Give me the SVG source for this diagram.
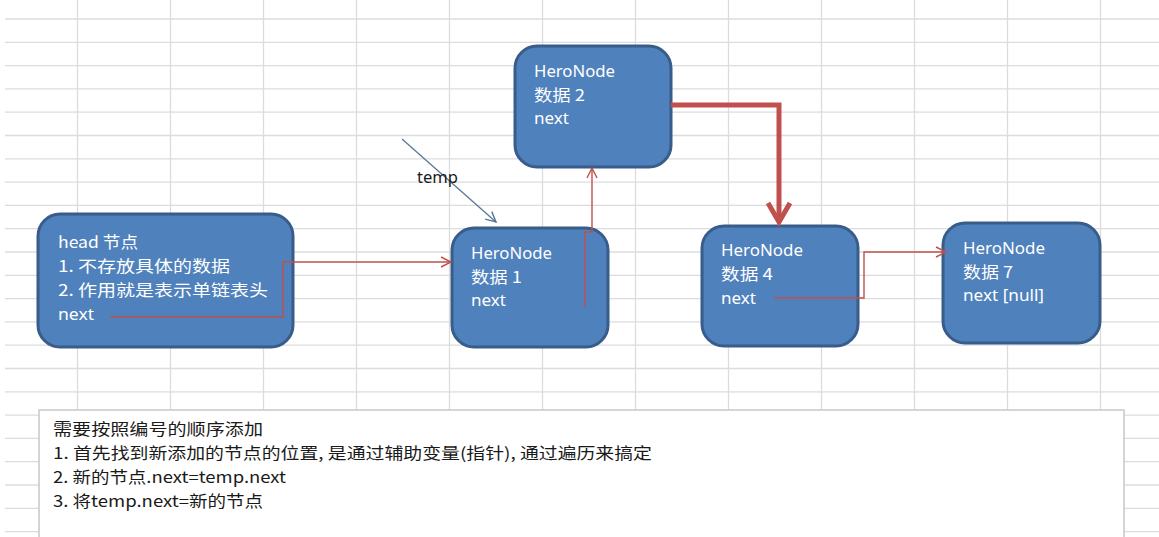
<svg xmlns="http://www.w3.org/2000/svg" width="1159" height="537" viewBox="0 0 1159 537">
<style>
.grid line{stroke:#dcdcdc;stroke-width:1.3}
.node rect{fill:#4f81bd;stroke:#385d8a;stroke-width:3}
.node text{fill:#ffffff;font-family:"Noto Sans","Noto Sans CJK SC",sans-serif;font-size:17px}
.node text.cjk{font-family:"Noto Sans CJK SC",sans-serif;font-size:16px}
.thin{fill:none;stroke:#c0504d;stroke-width:1.4}
.thick{fill:none;stroke:#c0504d;stroke-width:5;stroke-linejoin:miter}
.note{fill:#1a1a1a;font-family:"Noto Sans CJK SC",sans-serif;font-size:16px}
</style>
<defs>
<marker id="open" viewBox="0 0 12 12" refX="11" refY="6" markerWidth="12" markerHeight="12" markerUnits="userSpaceOnUse" orient="auto">
<path d="M1,1 L11,6 L1,11" fill="none" stroke="#c0504d" stroke-width="1.4"/>
</marker>
<marker id="openblue" viewBox="0 0 12 12" refX="11" refY="6" markerWidth="12" markerHeight="12" markerUnits="userSpaceOnUse" orient="auto">
<path d="M1,1 L11,6 L1,11" fill="none" stroke="#5a7896" stroke-width="1.4"/>
</marker>
</defs>
<rect width="1159" height="537" fill="#ffffff"/>
<g class="grid">
<line x1="5" y1="19" x2="1159" y2="19"/>
<line x1="5" y1="42.3" x2="1159" y2="42.3"/>
<line x1="5" y1="65.6" x2="1159" y2="65.6"/>
<line x1="5" y1="88.9" x2="1159" y2="88.9"/>
<line x1="5" y1="112.2" x2="1159" y2="112.2"/>
<line x1="5" y1="135.5" x2="1159" y2="135.5"/>
<line x1="5" y1="158.8" x2="1159" y2="158.8"/>
<line x1="5" y1="182.1" x2="1159" y2="182.1"/>
<line x1="5" y1="205.4" x2="1159" y2="205.4"/>
<line x1="5" y1="228.7" x2="1159" y2="228.7"/>
<line x1="5" y1="252" x2="1159" y2="252"/>
<line x1="5" y1="275.3" x2="1159" y2="275.3"/>
<line x1="5" y1="298.6" x2="1159" y2="298.6"/>
<line x1="5" y1="321.9" x2="1159" y2="321.9"/>
<line x1="5" y1="345.2" x2="1159" y2="345.2"/>
<line x1="5" y1="368.5" x2="1159" y2="368.5"/>
<line x1="5" y1="391.8" x2="1159" y2="391.8"/>
<line x1="5" y1="415.1" x2="1159" y2="415.1"/>
<line x1="5" y1="438.4" x2="1159" y2="438.4"/>
<line x1="5" y1="461.7" x2="1159" y2="461.7"/>
<line x1="5" y1="485" x2="1159" y2="485"/>
<line x1="5" y1="508.3" x2="1159" y2="508.3"/>
<line x1="5" y1="531.6" x2="1159" y2="531.6"/>
<line x1="77.5" y1="0" x2="77.5" y2="537"/>
<line x1="170.5" y1="0" x2="170.5" y2="537"/>
<line x1="263.5" y1="0" x2="263.5" y2="537"/>
<line x1="356.5" y1="0" x2="356.5" y2="537"/>
<line x1="449.5" y1="0" x2="449.5" y2="537"/>
<line x1="542.5" y1="0" x2="542.5" y2="537"/>
<line x1="635.5" y1="0" x2="635.5" y2="537"/>
<line x1="728.5" y1="0" x2="728.5" y2="537"/>
<line x1="821.5" y1="0" x2="821.5" y2="537"/>
<line x1="914.5" y1="0" x2="914.5" y2="537"/>
<line x1="1007.5" y1="0" x2="1007.5" y2="537"/>
<line x1="1100.5" y1="0" x2="1100.5" y2="537"/>
</g>
<g id="note">
<rect x="39" y="410" width="1085" height="140" fill="#ffffff" stroke="#c8c8c8" stroke-width="1.5"/>
<text class="note" x="53" y="435" textLength="210" lengthAdjust="spacingAndGlyphs">需要按照编号的顺序添加</text>
<text class="note" x="53" y="459" textLength="599" lengthAdjust="spacingAndGlyphs">1. 首先找到新添加的节点的位置, 是通过辅助变量(指针), 通过遍历来搞定</text>
<text class="note" x="53" y="483" textLength="233" lengthAdjust="spacingAndGlyphs">2. 新的节点.next=temp.next</text>
<text class="note" x="53" y="507" textLength="210" lengthAdjust="spacingAndGlyphs">3. 将temp.next=新的节点</text>
</g>
<g id="head" class="node">
<rect x="38" y="214" width="255" height="133" rx="22"/>
<text class="cjk" x="58" y="248" textLength="80" lengthAdjust="spacingAndGlyphs">head 节点</text>
<text class="cjk" x="58" y="272" textLength="172" lengthAdjust="spacingAndGlyphs">1. 不存放具体的数据</text>
<text class="cjk" x="58" y="296" textLength="210" lengthAdjust="spacingAndGlyphs">2. 作用就是表示单链表头</text>
<text x="58" y="320" textLength="36" lengthAdjust="spacingAndGlyphs">next</text>
</g>
<g id="node1" class="node">
<rect x="452" y="228" width="156" height="119" rx="22"/>
<text x="471" y="259" textLength="81" lengthAdjust="spacingAndGlyphs">HeroNode</text>
<text class="cjk" x="471" y="283" textLength="51" lengthAdjust="spacingAndGlyphs">数据 1</text>
<text x="471" y="306" textLength="35" lengthAdjust="spacingAndGlyphs">next</text>
</g>
<g id="node2" class="node">
<rect x="515" y="46" width="156" height="121" rx="22"/>
<text x="534" y="77" textLength="81" lengthAdjust="spacingAndGlyphs">HeroNode</text>
<text class="cjk" x="534" y="101" textLength="51" lengthAdjust="spacingAndGlyphs">数据 2</text>
<text x="534" y="124" textLength="35" lengthAdjust="spacingAndGlyphs">next</text>
</g>
<g id="node4" class="node">
<rect x="702" y="226" width="156" height="120" rx="22"/>
<text x="721" y="256" textLength="82" lengthAdjust="spacingAndGlyphs">HeroNode</text>
<text class="cjk" x="721" y="280" textLength="52" lengthAdjust="spacingAndGlyphs">数据 4</text>
<text x="721" y="304" textLength="35" lengthAdjust="spacingAndGlyphs">next</text>
</g>
<g id="node7" class="node">
<rect x="943" y="223" width="157" height="120" rx="22"/>
<text x="963" y="254" textLength="82" lengthAdjust="spacingAndGlyphs">HeroNode</text>
<text class="cjk" x="963" y="278" textLength="50" lengthAdjust="spacingAndGlyphs">数据 7</text>
<text x="963" y="301" textLength="81" lengthAdjust="spacingAndGlyphs">next [null]</text>
</g>
<g id="connectors">
<path class="thin" d="M110,317 H283 V262 H451" marker-end="url(#open)"/>
<path class="thin" d="M585,307 V232 H592 V168" marker-end="url(#open)"/>
<path class="thin" d="M774,298 H864 V252 H946" marker-end="url(#open)"/>
<path class="thick" d="M671,105 H779 V222"/>
<path class="thick" d="M768,203 L779,222 L790,203"/>
<line x1="402" y1="139" x2="496" y2="222" stroke="#5a7896" stroke-width="1.3" marker-end="url(#openblue)"/>
<text x="417" y="183" fill="#1a1a1a" font-family="'Noto Sans','Liberation Sans',sans-serif" font-size="16.5" textLength="41" lengthAdjust="spacingAndGlyphs">temp</text>
</g>
</svg>
